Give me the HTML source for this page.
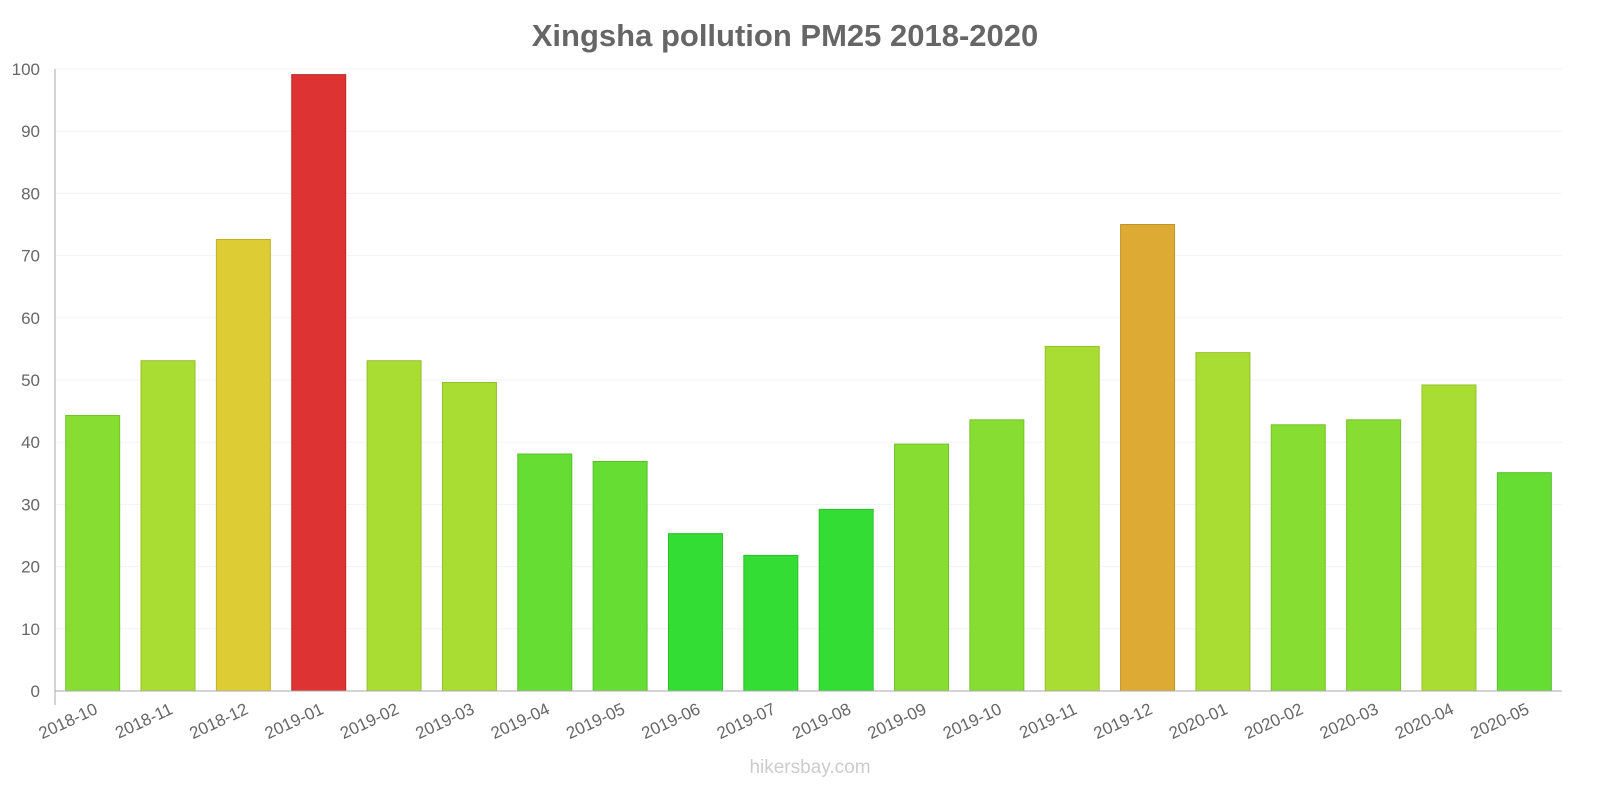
<!DOCTYPE html>
<html><head><meta charset="utf-8"><style>
html,body{margin:0;padding:0;background:#fff;}
svg{display:block;font-family:"Liberation Sans",sans-serif;}
</style></head><body>
<svg id="chart" width="1600" height="800">
<text x="785" y="46" text-anchor="middle" font-size="31" font-weight="bold" fill="#666">Xingsha pollution PM25 2018-2020</text>
<g id="grid"></g><g id="bars"></g><g id="yaxis"></g><g id="xaxis"></g>
<text x="810" y="773" text-anchor="middle" font-size="19" fill="#ccc">hikersbay.com</text>
</svg>
<script>
const categories=["2018-10","2018-11","2018-12","2019-01","2019-02","2019-03","2019-04","2019-05","2019-06","2019-07","2019-08","2019-09","2019-10","2019-11","2019-12","2020-01","2020-02","2020-03","2020-04","2020-05"];
const values=[44.3,53.1,72.6,99.1,53.1,49.6,38.1,36.9,25.3,21.8,29.2,39.7,43.6,55.4,75,54.4,42.8,43.6,49.2,35.1];
const yTicks=[0,10,20,30,40,50,60,70,80,90,100];
const NS="http://www.w3.org/2000/svg";
const X0=55,X1=1562,Y0=691,Y1=69,YMAX=100;
const y=v=>Y0-(v/YMAX)*(Y0-Y1);
const slot=(X1-X0)/categories.length;
const xc=i=>X0+slot*(i+0.5);
function col(v){if(v<30)return["#33dd33","#2bc02b"];if(v<39)return["#66dd33","#55c02b"];if(v<45)return["#88dd33","#77c02b"];if(v<60)return["#aadd33","#95c02b"];if(v<74)return["#ddcc33","#c0b02b"];if(v<90)return["#ddaa33","#c0942b"];return["#dd3333","#c02b2b"];}
function mk(t,a,p){const e=document.createElementNS(NS,t);for(const k in a)e.setAttribute(k,a[k]);p.appendChild(e);return e;}
const g=document.getElementById('grid'),b=document.getElementById('bars'),ya=document.getElementById('yaxis'),xa=document.getElementById('xaxis');
yTicks.forEach(t=>{
 const l=mk('line',{x1:X0,x2:X1,y1:y(t),y2:y(t),stroke:"#f3f3f3"},g);
 
 
 const tx=mk('text',{x:40,y:y(t)+6,"text-anchor":"end","font-size":17,fill:"#666"},ya);
 tx.textContent=t;
 
 
});
const bw=54;
values.forEach((v,i)=>{
 const c=col(v);
 const r=mk('rect',{x:xc(i)-bw/2,y:y(v),width:bw,height:Y0-y(v),fill:c[0],stroke:c[1],"stroke-width":1},b);
 
 
 const lx=xc(i)+6;
 const tx=mk('text',{x:lx,y:Y0+22,"text-anchor":"end","font-size":17,fill:"#666",transform:`rotate(-25 ${lx} ${Y0+22})`},xa);
 tx.textContent=categories[i];
 
 
});
const ax=mk('line',{x1:X0,x2:X0,y1:Y1,y2:Y0+14,stroke:"#aaa"},ya);


const bx=mk('line',{x1:X0,x2:X1,y1:Y0,y2:Y0,stroke:"#aaa"},xa);


</script>
</body></html>
